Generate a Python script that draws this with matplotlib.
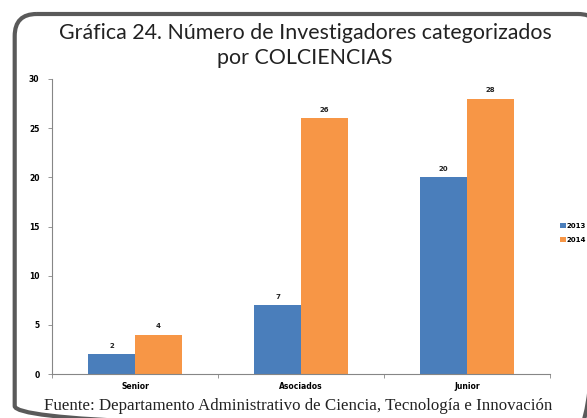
import matplotlib
matplotlib.use("Agg")
import matplotlib.pyplot as plt
import numpy as np
from matplotlib.patches import FancyBboxPatch

categories = ["Senior", "Asociados", "Junior"]
years = ["2013", "2014"]
values_2013 = [2, 7, 20]
values_2014 = [4, 26, 28]
yticks = [0, 5, 10, 15, 20, 25, 30]

blue = "#4a7ebb"
orange = "#f79646"
axis_gray = "#868686"

W, H = 587, 418
fig = plt.figure(figsize=(W / 100, H / 100), dpi=100)

def fx(px):
    return px / W

def fy(py):
    return 1 - py / H

# overlay in pixel coords for the rounded frame
bg = fig.add_axes([0, 0, 1, 1])
bg.set_xlim(0, W)
bg.set_ylim(H, 0)
bg.axis("off")
bg.add_patch(FancyBboxPatch((14.7, 14), 600 - 14.7, 428 - 14,
                            boxstyle="round,pad=0,rounding_size=22",
                            fill=False, edgecolor="#5a5a5a", linewidth=3))

fig.text(0.52, fy(33), "Gráfica 24. Número de Investigadores categorizados",
         ha="center", va="center", fontsize=15.4, family="Lato", color="#222222")
fig.text(0.52, fy(58), "por COLCIENCIAS",
         ha="center", va="center", fontsize=15.4, family="Lato", color="#222222")

ax = fig.add_axes([fx(52), fy(374), fx(550) - fx(52), fy(79) - fy(374)])
x = np.arange(len(categories))
bw = 0.283
b1 = ax.bar(x - bw / 2, values_2013, bw, color=blue, label=years[0])
b2 = ax.bar(x + bw / 2, values_2014, bw, color=orange, label=years[1])

for bars, vals in [(b1, values_2013), (b2, values_2014)]:
    for r, v in zip(bars, vals):
        ax.text(r.get_x() + r.get_width() / 2, v + 0.55, str(v), ha="center",
                va="bottom", fontsize=5, fontweight="bold", color="#222222")

ax.set_xlim(-0.5, 2.5)
ax.set_ylim(0, 30)
ax.set_yticks(yticks)
ax.set_yticklabels([str(t) for t in yticks], fontsize=5.5, fontweight="bold")
ax.set_xticks([-0.5, 0.5, 1.5, 2.5])
ax.set_xticklabels([])
ax.set_xticks(x, minor=True)
ax.set_xticklabels(categories, minor=True, fontsize=5.5, fontweight="bold")
ax.tick_params(axis="x", which="minor", length=0, pad=6)
ax.tick_params(axis="both", which="major", length=3, width=0.6, color=axis_gray,
               direction="out")
ax.tick_params(axis="y", pad=6)
for s in ["top", "right"]:
    ax.spines[s].set_visible(False)
for s in ["left", "bottom"]:
    ax.spines[s].set_color(axis_gray)
    ax.spines[s].set_linewidth(0.8)

leg = fig.legend(handles=[b1, b2], labels=years, loc="center left",
                 bbox_to_anchor=(fx(560), fy(233)), frameon=False, borderpad=0,
                 borderaxespad=0,
                 prop={"size": 5, "weight": "bold"}, handlelength=0.8,
                 handleheight=0.8, handletextpad=0.2, labelspacing=1.2)

fig.text(0.508, fy(406), "Fuente: Departamento Administrativo de Ciencia, Tecnología e Innovación",
         ha="center", va="center", fontsize=12.2, family="Liberation Serif",
         color="#222222")

fig.savefig("out.png", dpi=100)
